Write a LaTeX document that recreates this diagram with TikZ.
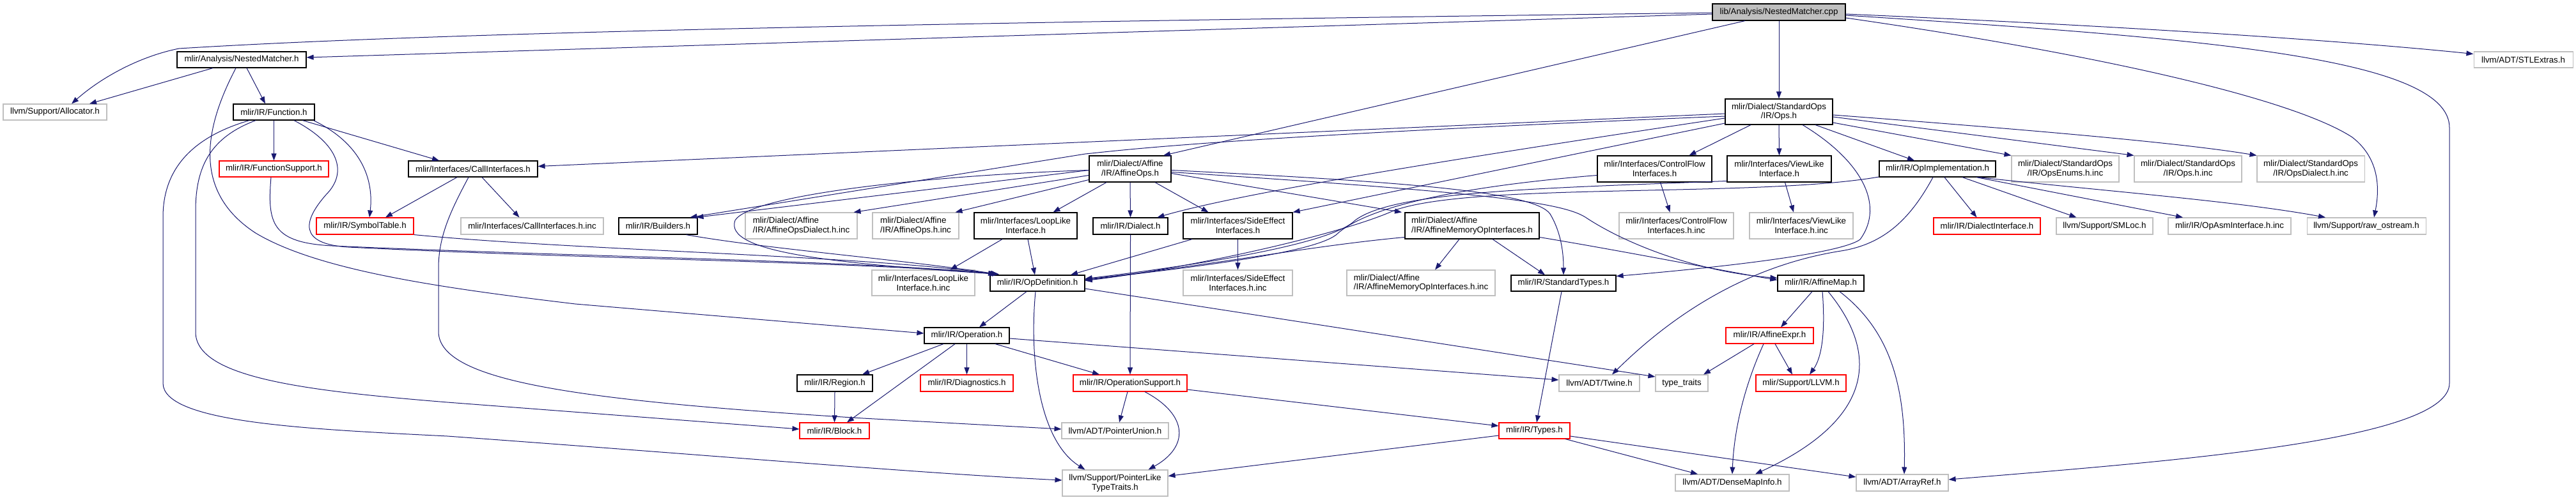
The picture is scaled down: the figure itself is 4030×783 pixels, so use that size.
\documentclass[tikz,border=0pt]{standalone}
\usepackage{fontspec}
\setmainfont{Liberation Sans}
\usetikzlibrary{arrows.meta}
\definecolor{lnk}{RGB}{25,25,112}
\definecolor{gborder}{RGB}{191,191,191}
\begin{document}
\begin{tikzpicture}[x=1pt,y=-1pt,
  base/.style={draw, inner sep=0pt, font=\fontsize{13.3}{14.6}\selectfont, align=center, fill=white},
  doc/.style={base, draw=black, line width=1.2pt},
  ext/.style={base, draw=gborder, line width=1.1pt},
  trunc/.style={base, draw=red, line width=1.1pt},
  root/.style={base, draw=black, fill=gborder, line width=1.2pt},
  lft/.style={align=left},
  sz/.style 2 args={minimum width=#1pt, minimum height=#2pt},
  dep/.style={draw=lnk, line width=1.0pt, -{Triangle[length=11pt,width=8pt]}},
]
\useasboundingbox (0,0) rectangle (4030,783);
\fill[white] (0,0) rectangle (4030,783);

% ---------- nodes ----------
\node[root, sz={208}{26}] (cpp) at (2783,19) {lib/Analysis/NestedMatcher.cpp};
\node[doc, sz={202}{25}] (nm) at (378,93.5) {mlir/Analysis/NestedMatcher.h};
\node[ext, sz={155}{25}] (stl) at (3947.5,93.5) {llvm/ADT/STLExtras.h};
\node[ext, sz={162}{25}] (alloc) at (86,175.5) {llvm/Support/Allocator.h};
\node[doc, sz={127}{25}] (func) at (428.5,175.5) {mlir/IR/Function.h};
\node[doc, sz={168}{40}] (ops) at (2783,175) {mlir/Dialect/StandardOps\\/IR/Ops.h};
\node[trunc, sz={171}{25}] (fsupp) at (428.5,264.5) {mlir/IR/FunctionSupport.h};
\node[doc, sz={202}{25}] (callif) at (740,264.5) {mlir/Interfaces/CallInterfaces.h};
\node[doc, sz={128}{41}] (affops) at (1768,264.5) {mlir/Dialect/Affine\\/IR/AffineOps.h};
\node[doc, sz={179}{41}] (cfif) at (2588.5,264.5) {mlir/Interfaces/ControlFlow\\Interfaces.h};
\node[doc, sz={163}{41}] (vlif) at (2783.5,264.5) {mlir/Interfaces/ViewLike\\Interface.h};
\node[doc, sz={182}{25}] (opimpl) at (3031,264.5) {mlir/IR/OpImplementation.h};
\node[ext, sz={168}{41}] (opsenums) at (3231,264.5) {mlir/Dialect/StandardOps\\/IR/OpsEnums.h.inc};
\node[ext, sz={168}{41}] (opsinc) at (3423,264.5) {mlir/Dialect/StandardOps\\/IR/Ops.h.inc};
\node[ext, sz={168}{41}] (opsdialinc) at (3615,264.5) {mlir/Dialect/StandardOps\\/IR/OpsDialect.h.inc};
\node[trunc, sz={152}{26}] (symtab) at (571,354) {mlir/IR/SymbolTable.h};
\node[ext, sz={223}{26}] (callinc) at (832.5,354) {mlir/Interfaces/CallInterfaces.h.inc};
\node[doc, sz={123}{26}] (builders) at (1029.5,354) {mlir/IR/Builders.h};
\node[ext, lft, sz={175}{41}] (affdialinc) at (1253.5,353.5) {mlir/Dialect/Affine\\/IR/AffineOpsDialect.h.inc};
\node[ext, lft, sz={135}{41}] (affopsinc) at (1432.5,353.5) {mlir/Dialect/Affine\\/IR/AffineOps.h.inc};
\node[doc, sz={161}{41}] (looplike) at (1604.5,353.5) {mlir/Interfaces/LoopLike\\Interface.h};
\node[doc, sz={117}{26}] (dialect) at (1768.5,354) {mlir/IR/Dialect.h};
\node[doc, sz={171}{41}] (sideeff) at (1936.5,353.5) {mlir/Interfaces/SideEffect\\Interfaces.h};
\node[doc, lft, sz={210}{41}] (affmem) at (2303,353.5) {mlir/Dialect/Affine\\/IR/AffineMemoryOpInterfaces.h};
\node[ext, sz={179}{41}] (cfinc) at (2622.5,353.5) {mlir/Interfaces/ControlFlow\\Interfaces.h.inc};
\node[ext, sz={162}{41}] (vlinc) at (2818,353.5) {mlir/Interfaces/ViewLike\\Interface.h.inc};
\node[trunc, sz={167}{26}] (dialif) at (3108.5,354) {mlir/IR/DialectInterface.h};
\node[ext, sz={151}{26}] (smloc) at (3292.5,354) {llvm/Support/SMLoc.h};
\node[ext, sz={192}{26}] (opasminc) at (3488,354) {mlir/IR/OpAsmInterface.h.inc};
\node[ext, sz={186}{26}] (rawos) at (3702,354) {llvm/Support/raw\_ostream.h};
\node[ext, sz={161}{40}] (loopinc) at (1444.5,443) {mlir/Interfaces/LoopLike\\Interface.h.inc};
\node[doc, sz={148}{25}] (opdef) at (1623,443.5) {mlir/IR/OpDefinition.h};
\node[ext, sz={171}{40}] (sideinc) at (1936.5,443) {mlir/Interfaces/SideEffect\\Interfaces.h.inc};
\node[ext, lft, sz={232}{40}] (affmeminc) at (2223,443) {mlir/Dialect/Affine\\/IR/AffineMemoryOpInterfaces.h.inc};
\node[doc, sz={164}{25}] (stdtypes) at (2446,443.5) {mlir/IR/StandardTypes.h};
\node[doc, sz={135}{25}] (affmap) at (2848.5,443.5) {mlir/IR/AffineMap.h};
\node[doc, sz={133}{25}] (operation) at (1512.5,525.5) {mlir/IR/Operation.h};
\node[trunc, sz={137}{25}] (affexpr) at (2768.5,525.5) {mlir/IR/AffineExpr.h};
\node[doc, sz={118}{26}] (region) at (1306,600) {mlir/IR/Region.h};
\node[trunc, sz={145}{26}] (diag) at (1512.5,600) {mlir/IR/Diagnostics.h};
\node[trunc, sz={178}{26}] (opsupp) at (1768,600) {mlir/IR/OperationSupport.h};
\node[ext, sz={126}{26}] (twine) at (2502,600) {llvm/ADT/Twine.h};
\node[ext, sz={82}{26}] (typetraits) at (2631,600) {type\_traits};
\node[trunc, sz={141}{26}] (llvmh) at (2817.5,600) {mlir/Support/LLVM.h};
\node[trunc, sz={109}{25}] (block) at (1305.5,674.5) {mlir/IR/Block.h};
\node[ext, sz={167}{25}] (ptrunion) at (1744.5,674.5) {llvm/ADT/PointerUnion.h};
\node[trunc, sz={111}{25}] (types) at (2400.5,674.5) {mlir/IR/Types.h};
\node[ext, sz={165}{41}] (ptrlike) at (1744.5,756.5) {llvm/Support/PointerLike\\TypeTraits.h};
\node[ext, sz={178}{26}] (densemap) at (2710,756) {llvm/ADT/DenseMapInfo.h};
\node[ext, sz={144}{26}] (arrayref) at (2976,756) {llvm/ADT/ArrayRef.h};

% ---------- edges ----------
% from the .cpp file
\draw[dep] ([yshift=-3pt]cpp.west) -- ([yshift=3.5pt]nm.east);
\draw[dep] ([yshift=-1pt]cpp.west) .. controls (1500,35) and (700,50) .. (280,76) .. controls (220,88) and (160,120) .. ([xshift=26pt]alloc.north);
\draw[dep] ([xshift=-53pt]cpp.south) -- ([xshift=52pt]affops.north);
\draw[dep] (cpp.south) -- (ops.north);
\draw[dep] ([yshift=-3pt]cpp.east) .. controls (3300,40) and (3650,62) .. ([yshift=9pt]stl.west);
\draw[dep] ([yshift=-5pt]cpp.east) .. controls (3450,60) and (3832,90) .. (3832,200) -- (3832,600) .. controls (3832,690) and (3400,722) .. ([yshift=5pt]arrayref.east);
\draw[dep] ([yshift=-9pt]cpp.east) .. controls (3250,80) and (3580,150) .. (3680,215) .. controls (3725,250) and (3722,300) .. ([xshift=12pt]rawos.north);

% NestedMatcher.h
\draw[dep] ([xshift=-45pt]nm.south) -- ([xshift=54pt]alloc.north);
\draw[dep] ([xshift=8pt]nm.south) -- ([xshift=-13.5pt]func.north);
\draw[dep] ([xshift=-9pt]nm.south) .. controls (320,200) and (300,300) .. (400,365) .. controls (500,425) and (700,452) .. (900,476) -- ([yshift=3.5pt]operation.west);

% Function.h
\draw[dep] (func.south) -- (fsupp.north);
\draw[dep] ([xshift=62pt]func.south) .. controls (565,225) and (585,280) .. ([xshift=7pt]symtab.north);
\draw[dep] ([xshift=45pt]func.south) -- ([xshift=-53pt]callif.north);
\draw[dep] ([xshift=31.5pt]func.south) .. controls (530,225) and (545,270) .. (510,305) .. controls (475,345) and (465,382) .. (545,387) .. controls (900,405) and (1350,410) .. ([xshift=-62pt,yshift=1pt]opdef.north);
\draw[dep] ([xshift=-28.5pt]func.south) .. controls (330,215) and (306,260) .. (306,330) -- (306,520) .. controls (306,592) and (480,612) .. (700,630) -- ([yshift=2.5pt]block.west);
\draw[dep] ([xshift=-38.5pt]func.south) .. controls (300,215) and (255,265) .. (255,340) -- (255,600) .. controls (255,662) and (480,672) .. (700,683) .. controls (1100,712) and (1450,742) .. ([yshift=4.5pt]ptrlike.west);

% FunctionSupport.h, SymbolTable.h, Builders.h
\draw[dep] ([xshift=-4.5pt]fsupp.south) .. controls (418,350) and (425,380) .. (520,385) .. controls (900,402) and (1350,408) .. ([xshift=-64pt,yshift=1pt]opdef.north);
\draw[dep] (symtab.south east) .. controls (900,392) and (1350,400) .. ([xshift=-66pt,yshift=1pt]opdef.north);
\draw[dep] ([xshift=44pt]builders.south) .. controls (1200,390) and (1400,405) .. ([xshift=-62pt,yshift=1pt]opdef.north);

% CallInterfaces.h
\draw[dep] ([xshift=-25pt]callif.south) -- ([xshift=32pt]symtab.north);
\draw[dep] ([xshift=14pt]callif.south) -- ([xshift=-20pt]callinc.north);
\draw[dep] ([xshift=-7pt]callif.south) .. controls (705,330) and (686,370) .. (686,420) -- (686,520) .. controls (688,597) and (900,627) .. (1350,655) -- ([yshift=2.5pt]ptrunion.west);

% AffineOps.h
\draw[dep] ([yshift=-2pt]affops.west) .. controls (1450,275) and (1175,305) .. (1150,345) .. controls (1132,395) and (1300,412) .. ([xshift=-60pt,yshift=1pt]opdef.north);
\draw[dep] ([yshift=-2pt]affops.west) -- ([xshift=60pt]builders.north);
\draw[dep] ([yshift=-10pt]affops.west) -- ([xshift=82pt]affdialinc.north);
\draw[dep] ([yshift=-17pt]affops.west) -- ([xshift=62pt]affopsinc.north);
\draw[dep] ([xshift=-37pt]affops.south) -- ([xshift=43pt]looplike.north);
\draw[dep] (affops.south) -- (dialect.north);
\draw[dep] ([xshift=39pt]affops.south) -- ([xshift=-46pt]sideeff.north);
\draw[dep] ([yshift=-7pt]affops.east) -- ([xshift=-110pt]affmem.north);
\draw[dep] ([yshift=-2pt]affops.east) .. controls (2200,285) and (2400,300) .. (2425,335) .. controls (2440,360) and (2446,390) .. (stdtypes.north);
\draw[dep] ([yshift=-5pt]affops.east) .. controls (2300,300) and (2440,315) .. (2480,340) .. controls (2540,380) and (2650,425) .. ([yshift=8pt]affmap.west);

% StandardOps/IR/Ops.h
\draw[dep] ([yshift=-7pt]ops.west) .. controls (1900,215) and (1750,236) .. (1698,241) -- ([xshift=50pt]builders.north);
\draw[dep] ([yshift=-3pt]ops.west) -- ([yshift=4pt]callif.east);
\draw[dep] ([yshift=-10pt]ops.west) .. controls (2300,245) and (1950,300) .. ([xshift=42pt]dialect.north);
\draw[dep] ([yshift=-18pt]ops.west) -- (sideeff.north east);
\draw[dep] ([xshift=-44pt]ops.south) -- ([xshift=54pt]cfif.north);
\draw[dep] (ops.south) -- (vlif.north);
\draw[dep] ([xshift=57pt]ops.south) -- ([xshift=-36pt]opimpl.north);
\draw[dep] ([yshift=-17pt]ops.east) -- (opsenums.north west);
\draw[dep] ([yshift=-8pt]ops.east) -- (opsinc.north west);
\draw[dep] ([yshift=-5pt]ops.east) .. controls (3200,205) and (3420,225) .. (opsdialinc.north west);
\draw[dep] ([xshift=37pt]ops.south) .. controls (2910,250) and (2950,320) .. (2910,375) .. controls (2880,397) and (2700,418) .. ([yshift=11pt]stdtypes.east);

% ControlFlow / ViewLike interfaces
\draw[dep] ([xshift=9pt]cfif.south) -- ([xshift=-10pt]cfinc.north);
\draw[dep] ([yshift=-10pt]cfif.west) .. controls (2250,295) and (2130,330) .. (2090,368) .. controls (2050,398) and (1850,420) .. ([yshift=5pt]opdef.east);
\draw[dep] ([xshift=9pt]vlif.south) -- ([xshift=-12pt]vlinc.north);
\draw[dep] ([yshift=-19pt]vlif.west) .. controls (2400,295) and (2180,300) .. (2120,345) .. controls (2080,385) and (1850,418) .. ([yshift=7pt]opdef.east);

% OpImplementation.h
\draw[dep] ([yshift=-12.5pt]opimpl.west) .. controls (2750,310) and (2300,285) .. (2180,330) .. controls (2095,368) and (1860,420) .. ([yshift=4pt]opdef.east);
\draw[dep] ([xshift=11pt]opimpl.south) -- ([xshift=-16pt]dialif.north);
\draw[dep] ([xshift=39pt]opimpl.south) -- ([xshift=-44pt]smloc.north);
\draw[dep] ([xshift=61pt]opimpl.south) -- ([xshift=-73pt]opasminc.north);
\draw[dep] ([xshift=64pt]opimpl.south) .. controls (3300,300) and (3500,315) .. ([xshift=-64pt]rawos.north);
\draw[dep] ([xshift=-7pt]opimpl.south) .. controls (2990,340) and (2950,382) .. (2880,393) .. controls (2760,412) and (2640,470) .. ([xshift=20pt]twine.north);

% LoopLike, SideEffect, Dialect
\draw[dep] ([xshift=-36.5pt]looplike.south) -- ([xshift=42pt]loopinc.north);
\draw[dep] ([xshift=3.5pt]looplike.south) -- ([xshift=-4pt]opdef.north);
\draw[dep] (sideeff.south) -- (sideinc.north);
\draw[dep] ([xshift=-71.5pt]sideeff.south) -- ([xshift=52pt]opdef.north);
\draw[dep] (dialect.south) -- (opsupp.north);

% AffineMemoryOpInterfaces.h
\draw[dep] ([yshift=-18pt]affmem.west) .. controls (2050,385) and (1900,415) .. ([yshift=6pt]opdef.east);
\draw[dep] ([xshift=-20pt]affmem.south) -- ([xshift=22pt]affmeminc.north);
\draw[dep] ([xshift=32pt]affmem.south) -- ([xshift=-29pt]stdtypes.north);
\draw[dep] ([yshift=-18pt]affmem.east) .. controls (2550,395) and (2700,425) .. ([yshift=5pt]affmap.west);

% OpDefinition.h
\draw[dep] ([xshift=-17pt]opdef.south) -- ([xshift=19.5pt]operation.north);
\draw[dep] ([xshift=-3pt]opdef.south) .. controls (1610,560) and (1625,690) .. ([xshift=-47pt]ptrlike.north);
\draw[dep] ([yshift=-8.5pt]opdef.east) -- ([yshift=10pt]typetraits.west);

% Operation.h, Region.h
\draw[dep] ([xshift=-36.5pt]operation.south) -- ([xshift=43pt]region.north);
\draw[dep] ([xshift=-18.5pt]operation.south) -- ([xshift=19.5pt]block.north);
\draw[dep] (operation.south) -- (diag.north);
\draw[dep] ([xshift=44.5pt]operation.south) -- ([xshift=-48pt]opsupp.north);
\draw[dep] ([yshift=-4.5pt]operation.east) -- ([yshift=5pt]twine.west);
\draw[dep] (region.south) -- (block.north);

% OperationSupport.h
\draw[dep] ([xshift=-4pt]opsupp.south) -- ([xshift=6.5pt]ptrunion.north);
\draw[dep] ([xshift=23pt]opsupp.south) .. controls (1860,650) and (1860,700) .. ([xshift=52pt]ptrlike.north);
\draw[dep] ([yshift=-10pt]opsupp.east) -- ([yshift=7.5pt]types.west);

% Types.h, StandardTypes.h
\draw[dep] ([yshift=-7.5pt]types.west) -- ([yshift=11pt]ptrlike.east);
\draw[dep] ([xshift=48.5pt]types.south) -- ([xshift=-54pt]densemap.north);
\draw[dep] ([yshift=-8.5pt]types.east) -- ([yshift=9pt]arrayref.west);
\draw[dep] ([xshift=-3pt]stdtypes.south) -- ([xshift=3.5pt]types.north);

% AffineMap.h, AffineExpr.h
\draw[dep] ([xshift=-13.5pt]affmap.south) -- ([xshift=17.5pt]affexpr.north);
\draw[dep] ([xshift=2.5pt]affmap.south) .. controls (2856,520) and (2850,560) .. ([xshift=13.5pt]llvmh.north);
\draw[dep] ([xshift=11.5pt]affmap.south) .. controls (2945,560) and (2925,660) .. ([xshift=36pt]densemap.north);
\draw[dep] ([xshift=29.5pt]affmap.south) .. controls (2960,520) and (2982,610) .. ([xshift=3pt]arrayref.north);
\draw[dep] ([xshift=-24.5pt]affexpr.south) -- ([xshift=34pt]typetraits.north);
\draw[dep] ([xshift=8.5pt]affexpr.south) -- ([xshift=-13.5pt]llvmh.north);
\draw[dep] ([xshift=-9.5pt]affexpr.south) .. controls (2722,620) and (2712,690) .. (densemap.north);
\end{tikzpicture}
\end{document}
